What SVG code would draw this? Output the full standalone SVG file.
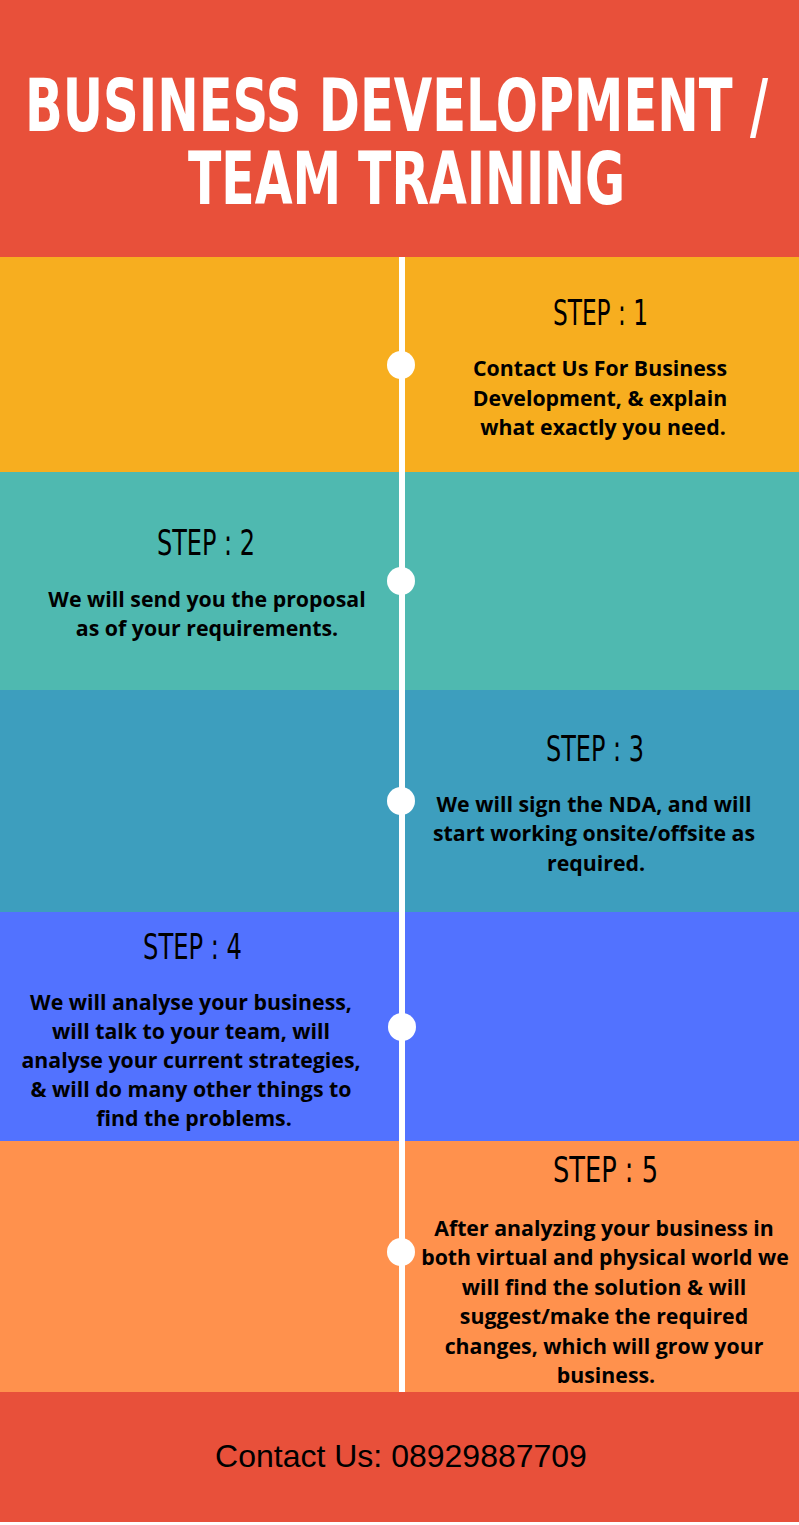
<svg xmlns="http://www.w3.org/2000/svg" width="799" height="1525" viewBox="0 0 799 1525">
<style>
.title{font-family:"DejaVu Sans","Liberation Sans",sans-serif;font-weight:bold;font-stretch:condensed;font-size:73px;fill:#ffffff}
.step{font-family:"DejaVu Sans","Liberation Sans",sans-serif;font-stretch:condensed;font-size:36px;fill:#000000}
.body{font-family:"Open Sans","Noto Sans",sans-serif;font-weight:bold;font-size:21.3px;fill:#000000;text-anchor:middle}
.foot{font-family:"Liberation Sans",Arial,sans-serif;font-size:32px;fill:#000000;text-anchor:middle}
.dot{fill:#ffffff}
</style>
<rect x="0" y="0" width="799" height="1525" fill="#ffffff"/>
<g id="header">
<rect x="0" y="0" width="799" height="257" fill="#E8503A"/>
<text class="title" x="25" y="131" textLength="743" lengthAdjust="spacingAndGlyphs">BUSINESS DEVELOPMENT /</text>
<text class="title" x="188" y="204" textLength="437" lengthAdjust="spacingAndGlyphs">TEAM TRAINING</text>
</g>
<g id="step1">
<rect x="0" y="257" width="799" height="215" fill="#F7AE1F"/>
<text class="step" x="553" y="325" textLength="95" lengthAdjust="spacingAndGlyphs">STEP : 1</text>
<text class="body" x="600" y="376">Contact Us For Business</text>
<text class="body" x="600" y="406">Development, &amp; explain</text>
<text class="body" x="603" y="435">what exactly you need.</text>
</g>
<g id="step2">
<rect x="0" y="472" width="799" height="218" fill="#4FB9B0"/>
<text class="step" x="157" y="555" textLength="98" lengthAdjust="spacingAndGlyphs">STEP : 2</text>
<text class="body" x="207" y="607">We will send you the proposal</text>
<text class="body" x="207" y="636">as of your requirements.</text>
</g>
<g id="step3">
<rect x="0" y="690" width="799" height="222" fill="#3D9EBE"/>
<text class="step" x="546" y="761" textLength="98" lengthAdjust="spacingAndGlyphs">STEP : 3</text>
<text class="body" x="594" y="812">We will sign the NDA, and will</text>
<text class="body" x="594" y="841">start working onsite/offsite as</text>
<text class="body" x="596" y="871">required.</text>
</g>
<g id="step4">
<rect x="0" y="912" width="799" height="229" fill="#5272FF"/>
<text class="step" x="143" y="959" textLength="99" lengthAdjust="spacingAndGlyphs">STEP : 4</text>
<text class="body" x="191" y="1010">We will analyse your business,</text>
<text class="body" x="191" y="1039">will talk to your team, will</text>
<text class="body" x="191" y="1068">analyse your current strategies,</text>
<text class="body" x="191" y="1097">&amp; will do many other things to</text>
<text class="body" x="194" y="1126">find the problems.</text>
</g>
<g id="step5">
<rect x="0" y="1141" width="799" height="251" fill="#FF914D"/>
<text class="step" x="553" y="1182" textLength="105" lengthAdjust="spacingAndGlyphs">STEP : 5</text>
<text class="body" x="604" y="1236">After analyzing your business in</text>
<text class="body" x="605" y="1265">both virtual and physical world we</text>
<text class="body" x="604" y="1295">will find the solution &amp; will</text>
<text class="body" x="604" y="1324">suggest/make the required</text>
<text class="body" x="604" y="1354">changes, which will grow your</text>
<text class="body" x="606" y="1383">business.</text>
</g>
<g id="footer">
<rect x="0" y="1392" width="799" height="130" fill="#E8503A"/>
<text class="foot" x="401" y="1467">Contact Us: 08929887709</text>
</g>
<g id="connectors">
<rect x="399" y="257" width="6" height="1135" fill="#ffffff"/>
<circle class="dot" cx="401" cy="365" r="14"/>
<circle class="dot" cx="401" cy="581" r="14"/>
<circle class="dot" cx="401" cy="801" r="14"/>
<circle class="dot" cx="402" cy="1027" r="14"/>
<circle class="dot" cx="401" cy="1252" r="14"/>
</g>
</svg>
